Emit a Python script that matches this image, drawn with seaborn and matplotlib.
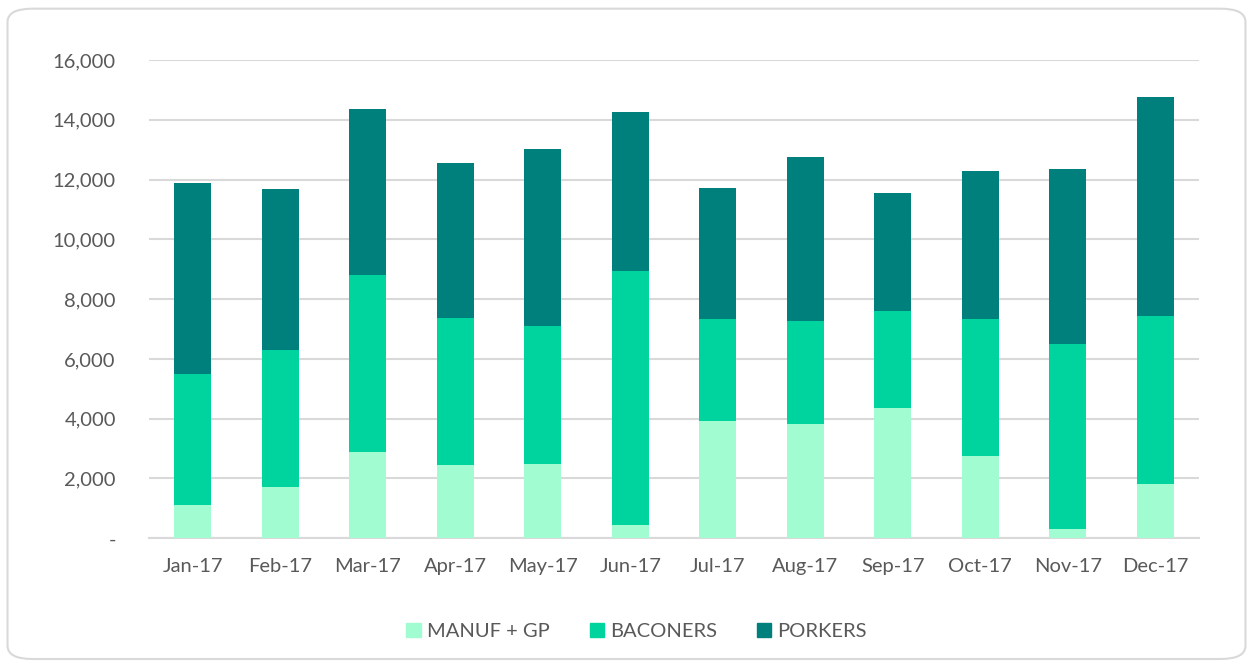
import numpy as np
import matplotlib
matplotlib.use("Agg")
import matplotlib.pyplot as plt
from matplotlib.patches import FancyBboxPatch, Patch
import pandas as pd
import seaborn as sns

months = ["Jan-17", "Feb-17", "Mar-17", "Apr-17", "May-17", "Jun-17",
          "Jul-17", "Aug-17", "Sep-17", "Oct-17", "Nov-17", "Dec-17"]
manuf = [1100, 1700, 2900, 2450, 2500, 450, 3930, 3830, 4360, 2750, 300, 1800]
baconers = [4400, 4600, 5900, 4930, 4600, 8480, 3420, 3450, 3260, 4600, 6200, 5620]
porkers = [6400, 5380, 5560, 5170, 5920, 5330, 4360, 5470, 3920, 4930, 5850, 7330]
series = ["MANUF + GP", "BACONERS", "PORKERS"]
colors = ["#A2FCD2", "#00D49E", "#00807C"]

df = pd.DataFrame({"Month": months, "MANUF + GP": manuf,
                   "BACONERS": baconers, "PORKERS": porkers})
# cumulative heights so the bars can be overlaid as a stack
df["cum1"] = df["MANUF + GP"]
df["cum2"] = df["cum1"] + df["BACONERS"]
df["cum3"] = df["cum2"] + df["PORKERS"]

sns.set_theme(style="white")
plt.rcParams["font.family"] = ["Lato", "DejaVu Sans"]
grey = "#595959"

fig = plt.figure(figsize=(12.53, 6.67), dpi=100)
ax = fig.add_axes([0.119, 0.193, 0.838, 0.717])

# draw tallest first, then cover with the lower parts
for col, c in zip(["cum3", "cum2", "cum1"], colors[::-1]):
    sns.barplot(data=df, x="Month", y=col, color=c, width=0.42,
                saturation=1, linewidth=0, ax=ax, zorder=3)

ax.set_ylim(0, 16000)
ax.set_xlim(-0.5, 11.5)
ax.set_yticks(np.arange(0, 16001, 2000))
ax.set_yticklabels(["-"] + [f"{v:,}" for v in range(2000, 16001, 2000)])
ax.yaxis.grid(True, color="#D9D9D9", linewidth=1.5, zorder=0)
ax.set_axisbelow(True)
ax.set_xlabel("")
ax.set_ylabel("")

for s in ["top", "right", "left"]:
    ax.spines[s].set_visible(False)
ax.spines["bottom"].set_color("#D9D9D9")
ax.spines["bottom"].set_linewidth(1.5)

ax.set_xticks(np.arange(-0.5, 12, 1), minor=True)
ax.tick_params(axis="x", which="minor", length=7, width=1.5, color="#D9D9D9",
               direction="out")
ax.tick_params(axis="x", which="major", length=0, pad=14, labelsize=14.5,
               labelcolor=grey)
ax.tick_params(axis="y", length=0, pad=24, labelsize=14.5, labelcolor=grey)

handles = [Patch(color=c, label=s) for c, s in zip(colors, series)]
leg = fig.legend(handles=handles, loc="center", bbox_to_anchor=(0.508, 0.053),
                 ncol=3, frameon=False, fontsize=14.5, handlelength=0.7,
                 handleheight=0.7, columnspacing=2.0, handletextpad=0.3)
for t in leg.get_texts():
    t.set_color(grey)

border = FancyBboxPatch((0.006, 0.012), 0.988, 0.975,
                        boxstyle="round,pad=0,rounding_size=0.02",
                        transform=fig.transFigure, fill=False,
                        edgecolor="#D9D9D9", linewidth=1.5)
fig.patches.append(border)

fig.savefig("out.png", dpi=100)
